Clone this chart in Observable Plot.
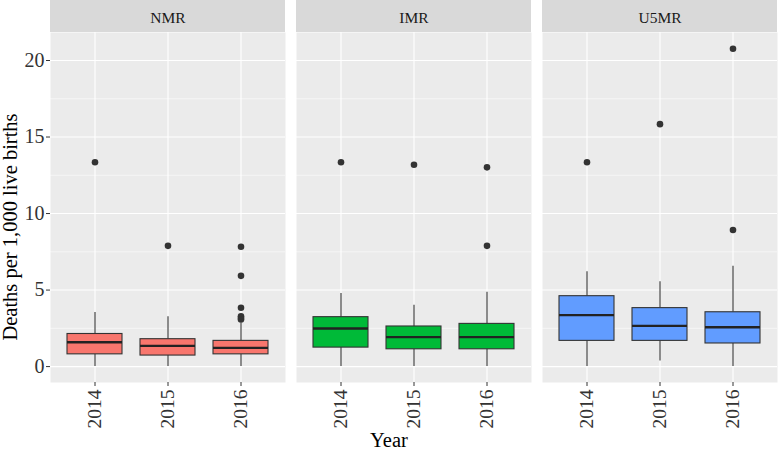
<!DOCTYPE html>
<html><head><meta charset="utf-8">
<script src="https://cdn.jsdelivr.net/npm/d3@7"></script>
<script src="https://cdn.jsdelivr.net/npm/@observablehq/plot@0.6"></script>
<style>body{margin:0;background:#fff} svg{display:block} svg text{font-family:'Liberation Serif','Times New Roman',serif !important}</style>
</head><body><div id="chart"></div>
<script>
const indicators = ["NMR", "IMR", "U5MR"];
const years = ["2014", "2015", "2016"];
const colors = ["#F8766D", "#00BA38", "#619CFF"];
// box order: NMR 2014,2015,2016, IMR 2014..2016, U5MR 2014..2016
const whiskerLow  = [0, 0, 0,   0, 0, 0,   0, 0.37, 0];
const q1          = [0.80, 0.72, 0.80,  1.24, 1.13, 1.13,  1.68, 1.68, 1.51];
const median      = [1.59, 1.35, 1.22,  2.49, 1.92, 1.92,  3.36, 2.66, 2.57];
const q3          = [2.13, 1.79, 1.68,  3.23, 2.62, 2.79,  4.60, 3.82, 3.55];
const whiskerHigh = [3.53, 3.25, 2.85,  4.78, 4.01, 4.86,  6.19, 5.54, 6.56];
const outlierIndicator = ["NMR","NMR","NMR","NMR","NMR","NMR","NMR","NMR","IMR","IMR","IMR","IMR","U5MR","U5MR","U5MR","U5MR"];
const outlierYear      = ["2014","2015","2016","2016","2016","2016","2016","2016","2014","2015","2016","2016","2014","2015","2016","2016"];
const outlierValue     = [13.35, 7.89, 7.83, 5.93, 3.84, 3.29, 3.18, 3.08, 13.35, 13.19, 13.02, 7.89, 13.35, 15.84, 20.77, 8.92];
const yTicks = [0, 5, 10, 15, 20];
const yMinor = [2.5, 7.5, 12.5, 17.5];
const yLabel = "Deaths per 1,000 live births";
const xLabel = "Year";

const boxes = [];
indicators.forEach((ind, i) => years.forEach((yr, j) => {
  const k = i * 3 + j;
  boxes.push({indicator: ind, year: yr, lo: whiskerLow[k], q1: q1[k], med: median[k], q3: q3[k], hi: whiskerHigh[k]});
}));
const outliers = outlierValue.map((v, i) => ({indicator: outlierIndicator[i], year: outlierYear[i], value: v}));

const font = "'Liberation Serif', 'Times New Roman', serif";
const plot = Plot.plot({
  width: 778, height: 451,
  marginLeft: 50, marginRight: 1, marginTop: 32, marginBottom: 69,
  style: {fontFamily: font, background: "#fff", color: "#333"},
  fx: {domain: indicators, paddingInner: 0.045, paddingOuter: 0, label: null},
  x: {domain: years, paddingInner: 0.25, paddingOuter: 0.225, label: null},
  y: {domain: [-1.04, 21.83], label: null},
  color: {domain: indicators, range: colors},
  marks: [
    Plot.frame({fill: "#EBEBEB", stroke: "none"}),
    Plot.gridY(yMinor, {stroke: "#fff", strokeOpacity: 1, strokeWidth: 0.55}),
    Plot.gridY(yTicks, {stroke: "#fff", strokeOpacity: 1, strokeWidth: 1.1}),
    Plot.gridX({stroke: "#fff", strokeOpacity: 1, strokeWidth: 1.1}),
    Plot.ruleX(boxes, {fx: "indicator", x: "year", y1: "lo", y2: "q1", stroke: "#333", strokeWidth: 1.1}),
    Plot.ruleX(boxes, {fx: "indicator", x: "year", y1: "q3", y2: "hi", stroke: "#333", strokeWidth: 1.1}),
    Plot.barY(boxes, {fx: "indicator", x: "year", y1: "q1", y2: "q3", fill: "indicator", stroke: "#333", strokeWidth: 1.1}),
    Plot.tickY(boxes, {fx: "indicator", x: "year", y: "med", stroke: "#222", strokeWidth: 2.3}),
    Plot.dot(outliers, {fx: "indicator", x: "year", y: "value", r: 3.3, fill: "#333", stroke: "none"}),
    Plot.axisFx({anchor: "top", tickSize: 0, tickPadding: 10, fontSize: 15.5, color: "#1A1A1A", label: null}),
    Plot.axisY(yTicks, {tickSize: 4, tickPadding: 2, fontSize: 20, color: "#333", label: null}),
    Plot.axisX({tickRotate: -90, tickSize: 4, tickPadding: 3, fontSize: 19.5, color: "#333", label: null})
  ]
});

const svg = d3.select(plot);
const fx = plot.scale("fx");
const strips = svg.insert("g", "g").attr("aria-label", "strips");
indicators.forEach(d => {
  strips.append("rect")
    .attr("x", fx.apply(d)).attr("y", 0)
    .attr("width", fx.bandwidth).attr("height", 32)
    .attr("fill", "#D9D9D9");
});
svg.append("text")
  .attr("transform", "translate(17,227) rotate(-90)")
  .attr("text-anchor", "middle")
  .attr("font-size", 20.5).attr("fill", "#000")
  .text(yLabel);
svg.append("text")
  .attr("x", 389).attr("y", 447)
  .attr("text-anchor", "middle")
  .attr("font-size", 20.5).attr("fill", "#000")
  .text(xLabel);
document.getElementById("chart").appendChild(plot);
</script>
</body></html>
